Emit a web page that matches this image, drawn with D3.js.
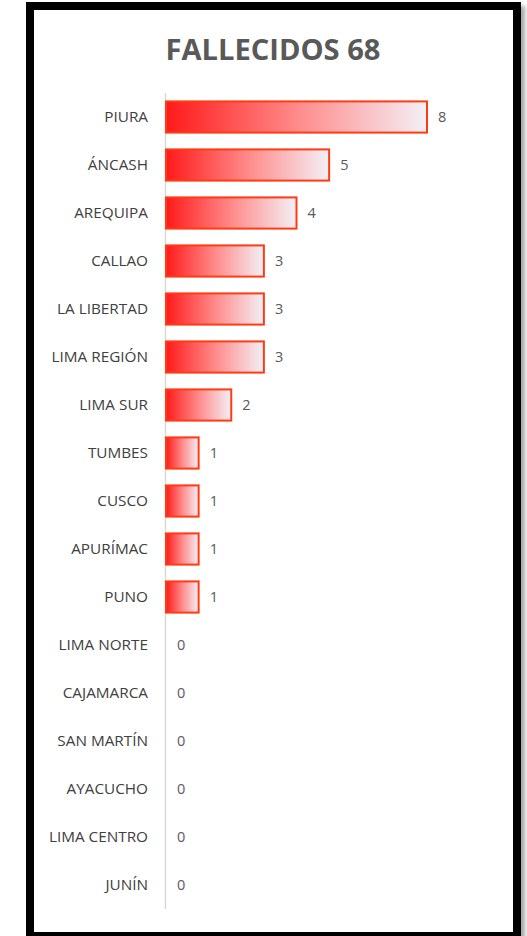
<!DOCTYPE html>
<html><head><meta charset="utf-8">
<script src="https://cdn.jsdelivr.net/npm/d3@7"></script>
<style>html,body{margin:0;padding:0;background:#fff;}svg{display:block;}</style>
</head><body>
<script>
const categories = ["PIURA","ÁNCASH","AREQUIPA","CALLAO","LA LIBERTAD","LIMA REGIÓN","LIMA SUR","TUMBES","CUSCO","APURÍMAC","PUNO","LIMA NORTE","CAJAMARCA","SAN MARTÍN","AYACUCHO","LIMA CENTRO","JUNÍN"];
const values = [8,5,4,3,3,3,2,1,1,1,1,0,0,0,0,0,0];
const title = "FALLECIDOS 68";

const W = 527, H = 936;
const svg = d3.select("body").append("svg").attr("width", W).attr("height", H);
const defs = svg.append("defs");
const grad = defs.append("linearGradient").attr("id","g").attr("x1","0").attr("x2","1").attr("y1","0").attr("y2","0");
grad.append("stop").attr("offset","0").attr("stop-color","#ff1a1a");
grad.append("stop").attr("offset","0.5").attr("stop-color","#ff8a8a");
grad.append("stop").attr("offset","1").attr("stop-color","#f3f0f6");
const sh = defs.append("filter").attr("id","sh").attr("x","-5%").attr("y","-5%").attr("width","115%").attr("height","115%");
sh.append("feDropShadow").attr("dx",4).attr("dy",4).attr("stdDeviation",2).attr("flood-color","#000").attr("flood-opacity",0.35);

// frame
svg.append("rect").attr("x",30).attr("y",6).attr("width",487).attr("height",930)
  .attr("fill","#fff").attr("stroke","#000").attr("stroke-width",8).attr("filter","url(#sh)");

svg.append("text").attr("x",273).attr("y",60).attr("text-anchor","middle")
  .attr("font-family","Open Sans, sans-serif").attr("font-weight","bold").attr("font-size",29)
  .attr("fill","#595959").attr("textLength",215).attr("lengthAdjust","spacingAndGlyphs").text(title);

const x = d3.scaleLinear().domain([0,8]).range([166,427]);
const y = d3.scaleBand().domain(categories).range([93,909]).paddingInner(0.35).paddingOuter(0.175);

const yAxis = svg.append("g").attr("transform","translate(165,0)").call(d3.axisLeft(y).tickSize(0).tickPadding(17));
yAxis.select(".domain").attr("stroke","#d9d9d9").attr("stroke-width",1.5).attr("d","M0.5,93V909");
yAxis.selectAll("text").attr("font-family","Open Sans, sans-serif").attr("font-size",15.3).attr("fill","#404040");

svg.append("g").selectAll("rect").data(categories.map((c,i)=>({c,v:values[i]})).filter(d=>d.v>0))
  .join("rect").attr("x",x(0)).attr("y",d=>y(d.c)).attr("width",d=>x(d.v)-x(0)).attr("height",y.bandwidth())
  .attr("fill","url(#g)").attr("stroke","#ff3b12").attr("stroke-width",2);

svg.append("g").selectAll("text").data(categories.map((c,i)=>({c,v:values[i]})))
  .join("text").attr("x",d=>x(d.v)+11).attr("y",d=>y(d.c)+y.bandwidth()/2).attr("dy","0.35em")
  .attr("font-family","Open Sans, sans-serif").attr("font-size",14.5).attr("fill","#595959").text(d=>d.v);
</script>
</body></html>
